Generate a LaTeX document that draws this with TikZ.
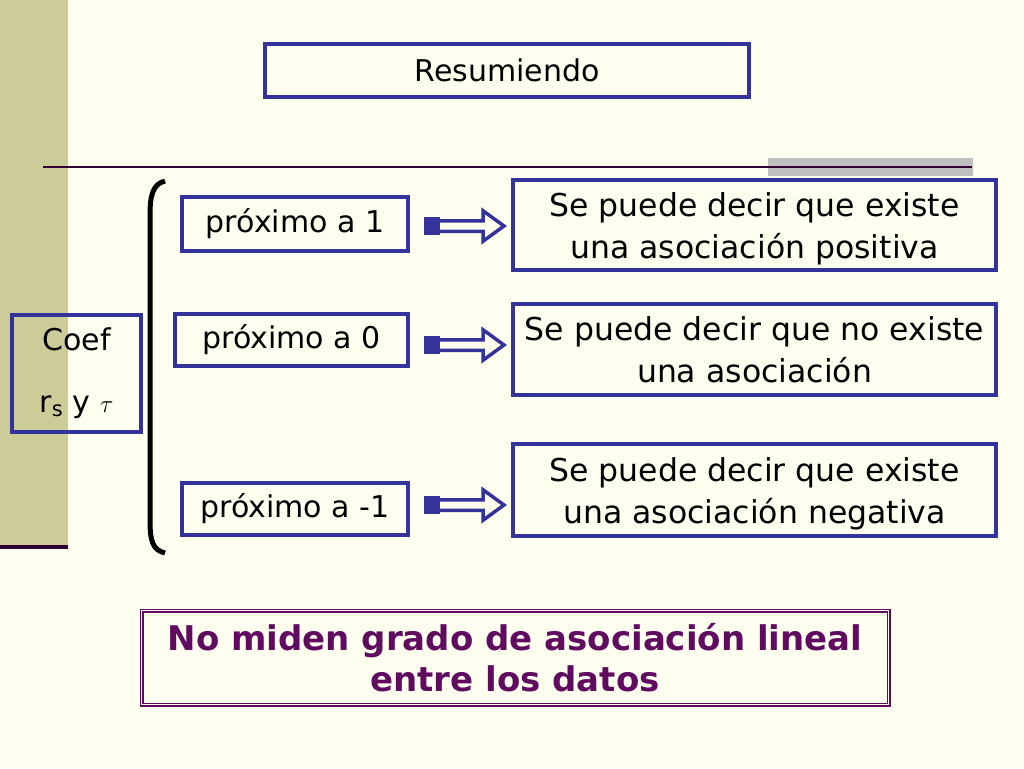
\documentclass[tikz,border=0pt]{standalone}
\usepackage{fontspec}
\setmainfont{DejaVu Sans}
\definecolor{bgcream}{HTML}{FFFFF0}
\definecolor{barkhaki}{HTML}{CCCC99}
\definecolor{boxblue}{HTML}{333399}
\definecolor{plum}{HTML}{600A60}
\definecolor{darkplum}{HTML}{330033}
\definecolor{bargray}{HTML}{C0C0C0}

\begin{document}
\begin{tikzpicture}[x=1pt,y=-1pt,line width=4pt] % 1pt = 1 pixel

\tikzstyle{bluebox} = [draw=boxblue,line width=4pt,inner sep=0pt,align=center,font=\fontsize{30}{41}\selectfont];
\tikzstyle{answerbox} = [bluebox,font=\fontsize{31.5}{42}\selectfont,text height=66pt,text depth=0pt];
\tikzstyle{plumbox} = [draw=plum,double=bgcream,double distance=1.6pt,line width=1.2pt,inner sep=0pt,align=center,text=plum,font=\bfseries\fontsize{34}{41}\selectfont];
\tikzstyle{hollowarrow} = [draw=boxblue,line width=3.5pt,fill=bgcream,line join=miter];

% background and slide decoration
\fill[bgcream] (0,0) rectangle (1024,768);
\useasboundingbox (0,0) rectangle (1024,768);
\fill[barkhaki] (0,0) rectangle (68,548);
\draw[darkplum,line width=3.5pt] (0,547) -- (68,547);
\fill[bargray] (768,158) rectangle (973,176);
\draw[darkplum,line width=2pt] (43,167) -- (972,167);

% title
\node[bluebox,minimum width=484pt,minimum height=53pt] (v1) at (507,70.5) {Resumiendo};

% left side
\node[bluebox,minimum width=129pt,minimum height=117pt] (v2) at (76.5,373.5) {Coef\\[21pt]r\textsubscript{s} y $\tau$};
\draw[black,line width=5pt] (165,181) .. controls (153,184) and (150,195) .. (150,215) -- (150,520) .. controls (150,542) and (153,550) .. (165,553);

\node[bluebox,minimum width=226pt,minimum height=54pt] (v3) at (295,224) {próximo a 1};
\node[bluebox,minimum width=233pt,minimum height=52pt] (v4) at (291.5,340) {próximo a 0};
\node[bluebox,minimum width=226pt,minimum height=52pt] (v5) at (295,509) {próximo a -1};

% right side
\node[answerbox,minimum width=483pt,minimum height=90pt] (v6) at (754.5,225) {Se puede decir que existe\\una asociación positiva};
\node[answerbox,minimum width=483pt,minimum height=91pt] (v7) at (754.5,349.5) {Se puede decir que no existe\\una asociación};
\node[answerbox,minimum width=483pt,minimum height=92pt] (v8) at (754.5,490) {Se puede decir que existe\\una asociación negativa};

% arrows: hollow arrow with a solid block at its tail
\foreach \y in {226,345,505} {
  \draw[hollowarrow] (436,\y-5.25) -- (483,\y-5.25) -- (483,\y-15.25) -- (504,\y) -- (483,\y+15.25) -- (483,\y+5.25) -- (436,\y+5.25) -- cycle;
  \fill[boxblue] (424,\y-9) rectangle (440,\y+9);
}

% bottom note
\node[plumbox,minimum width=747pt,minimum height=94pt] (v9) at (515,657.5) {No miden grado de asociación lineal\\entre los datos};
\end{tikzpicture}
\end{document}
